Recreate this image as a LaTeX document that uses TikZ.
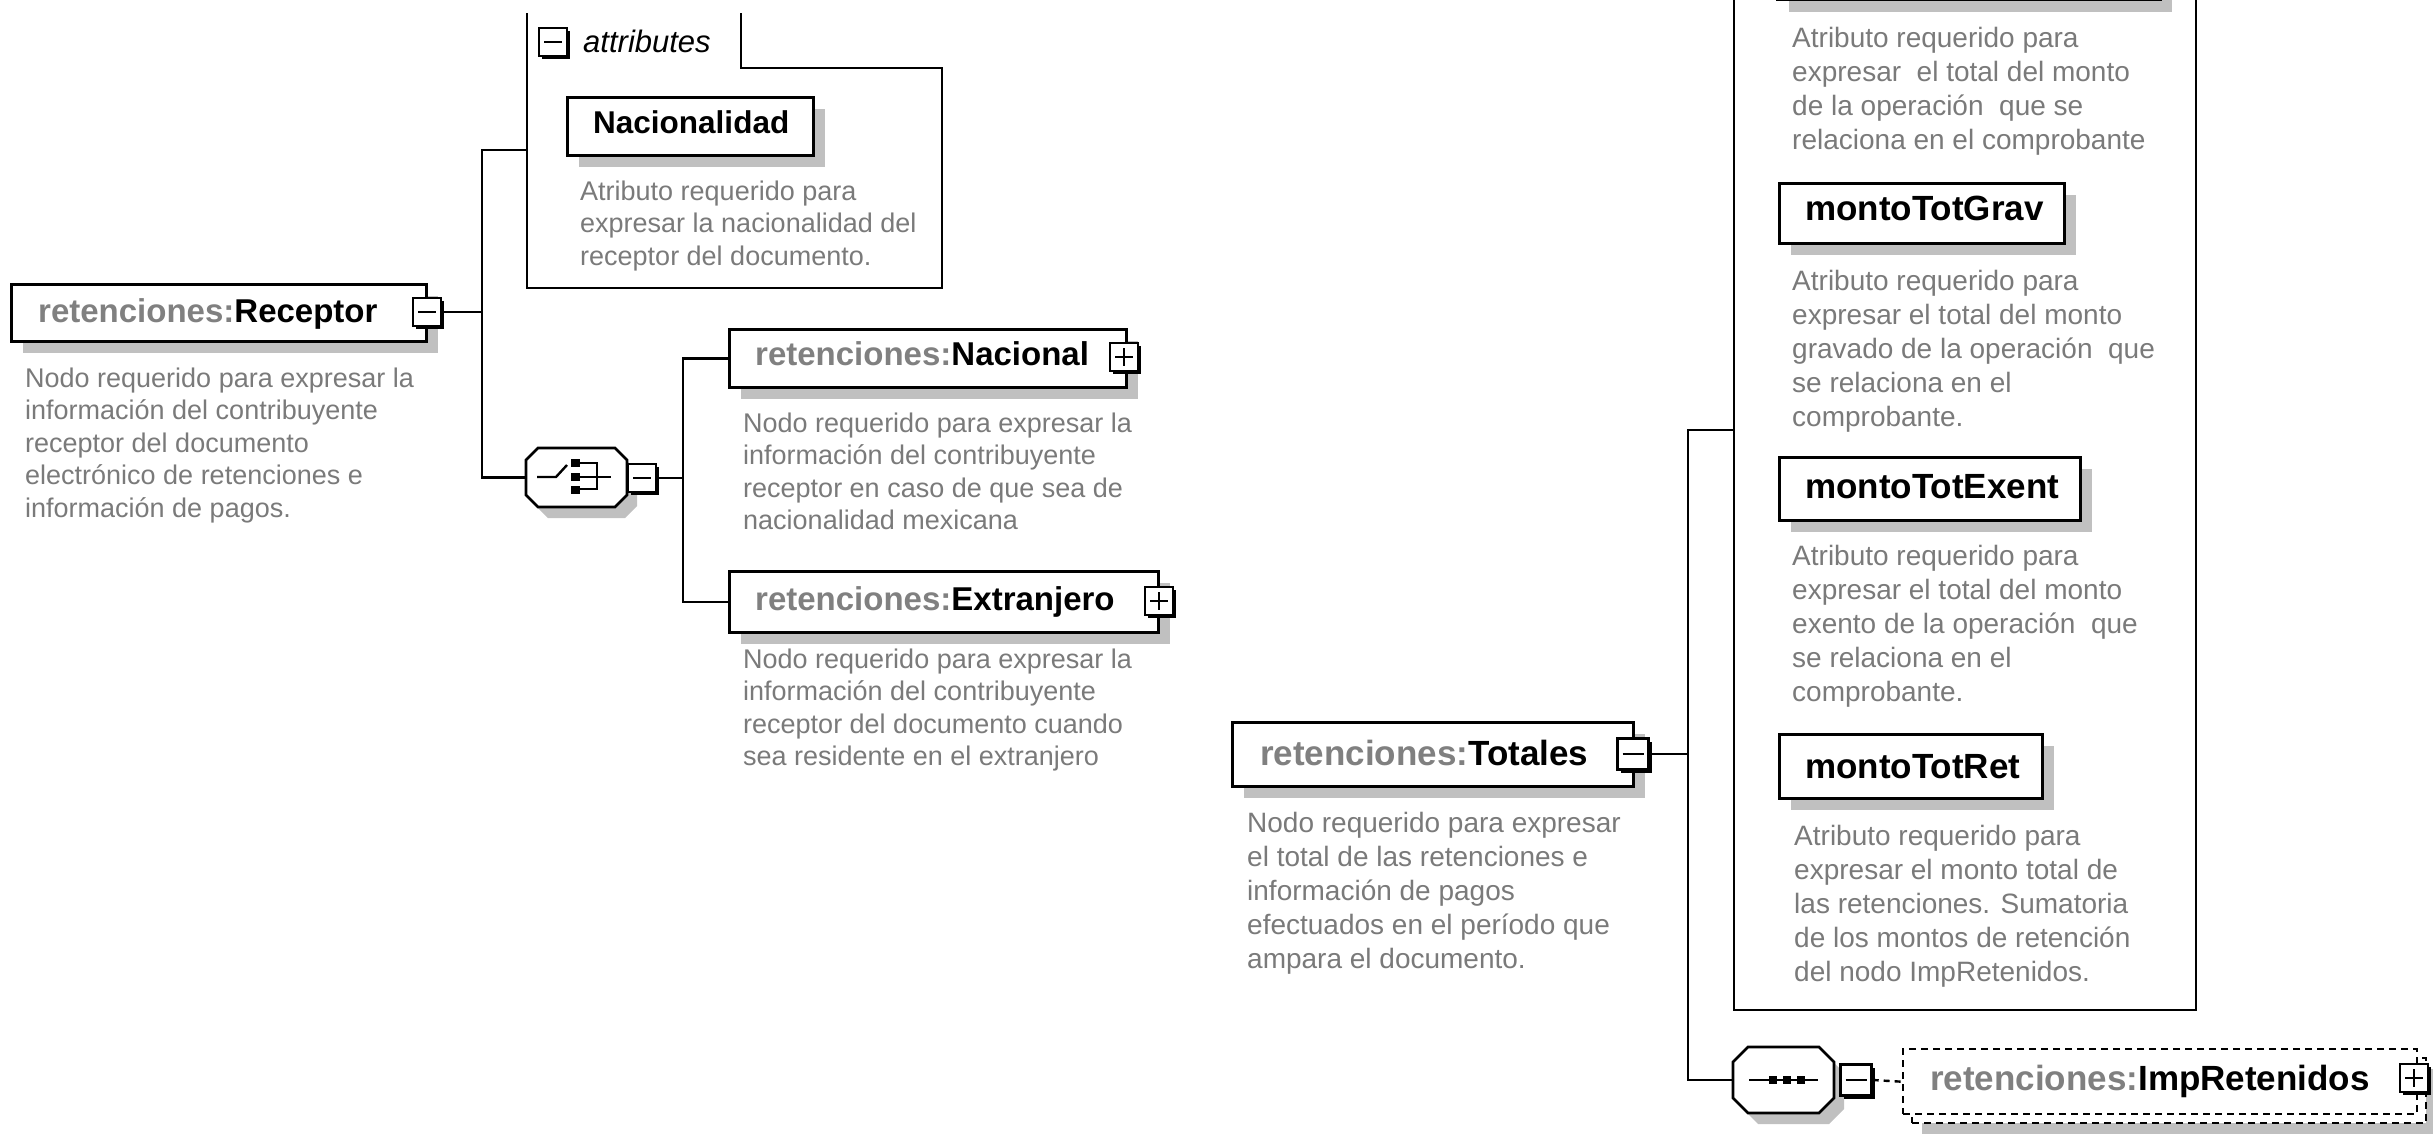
\documentclass[tikz,border=0pt]{standalone}
\usepackage{fontspec}
\setmainfont{Liberation Sans}
\usetikzlibrary{shadows}
\definecolor{pregray}{RGB}{128,128,128}
\definecolor{descgray}{RGB}{122,122,122}
\definecolor{shadowgray}{RGB}{192,192,192}
\newcommand\pre[1]{\textcolor{pregray}{#1}}
\newcommand\octpath[5]{(#1+#5,#2) -- (#3-#5,#2) -- (#3,#2+#5) -- (#3,#4-#5) -- (#3-#5,#4) -- (#1+#5,#4) -- (#1,#4-#5) -- (#1,#2+#5) -- cycle}
\tikzset{
 ln/.style={line width=2.6pt},
 elem/.style={draw, line width=2.8pt, fill=white, anchor=north west, inner sep=0pt,
   general shadow={fill=shadowgray, shadow xshift=12pt, shadow yshift=-12pt}},
 impbox/.style={draw, line width=2.4pt, dash pattern=on 7pt off 5pt, fill=white, anchor=north west, inner sep=0pt},
 lblL/.style={anchor=base west, inner sep=0pt, font=\fontsize{33}{40}\selectfont\bfseries},
 lblR/.style={anchor=base west, inner sep=0pt, font=\fontsize{35}{42}\selectfont\bfseries},
 descL/.style={anchor=north west, inner sep=0pt, align=left, text=descgray, font=\fontsize{27}{32.5}\selectfont},
 descR/.style={anchor=north west, inner sep=0pt, align=left, text=descgray, font=\fontsize{28}{34}\selectfont},
 btn/.style={draw, line width=2.4pt, fill=white, minimum size=28pt, inner sep=0pt,
   general shadow={fill=black, shadow xshift=3pt, shadow yshift=-3pt}},
 minusbtn/.style={btn, path picture={\draw[line width=2.2pt] ([xshift=5pt]path picture bounding box.west) -- ([xshift=-5pt]path picture bounding box.east);}},
 plusbtn/.style={btn, path picture={\draw[line width=2.2pt] ([xshift=5pt]path picture bounding box.west) -- ([xshift=-5pt]path picture bounding box.east);
   \draw[line width=2.2pt] ([yshift=-5pt]path picture bounding box.north) -- ([yshift=5pt]path picture bounding box.south);}},
 anchorbox/.style={inner sep=0pt, outer sep=0pt},
}
\begin{document}
\begin{tikzpicture}[x=1pt,y=-1pt]
\useasboundingbox (0,0) rectangle (2433,1133);
\clip (0,0) rectangle (2433,1133);
\fill[white] (0,0) rectangle (2433,1133);

% ---------------- Receptor ----------------
\node[elem, minimum width=415pt, minimum height=57pt] (rec) at (10,283) {};
\node[lblL] (reclbl) at (38,322) {\pre{retenciones:}Receptor};
\node[minusbtn] (recbtn) at (427,312) {};
\node[descL] (recdesc) at (25,364.25) {\strut Nodo requerido para expresar la\\informaci\'on del contribuyente\\receptor del documento\\electr\'onico de retenciones e\\informaci\'on de pagos.};

% attributes container (left)
\draw[line width=2.8pt] (527,13) -- (527,288) -- (942,288) -- (942,68) -- (741,68) -- (741,13);
\node[minusbtn] (attrbtn) at (553,42) {};
\node[anchor=base west, inner sep=0pt, font=\fontsize{31}{38}\selectfont\itshape] (attrlbl) at (583,52) {attributes};
\node[elem, minimum width=246pt, minimum height=58pt] (nacattr) at (566,96) {};
\node[anchor=base west, inner sep=0pt, font=\fontsize{31.5}{38}\selectfont\bfseries] (nacattrlbl) at (593,133) {Nacionalidad};
\node[descL] (nacattrdesc) at (580,177.25) {\strut Atributo requerido para\\expresar la nacionalidad del\\receptor del documento.};

% choice compositor
\fill[shadowgray, shift={(10,11)}] \octpath{526}{448}{627}{507}{12};
\node[anchorbox, minimum width=101pt, minimum height=59pt] (choice) at (576.5,477.5) {};
\draw[ln, fill=white] \octpath{526}{448}{627}{507}{12};
\draw[line width=2.4pt] (537,477) -- (556,477) -- (567,465);
\fill (571,459) rectangle (580,467);
\fill (571,473) rectangle (580,481);
\fill (571,486) rectangle (580,494);
\draw[line width=2.4pt] (580,463) -- (597,463) -- (597,489) -- (580,489);
\draw[line width=2.4pt] (580,477) -- (611,477);
\node[minusbtn] (choicebtn) at (642,478) {};

% connectors Receptor
\coordinate (attrL) at (527,150);
\coordinate (rbus) at (482,312);
\draw[ln] (recbtn.east) -- (rbus);
\draw[ln] (attrL) -| (rbus) |- (choice.west);

% Nacional
\node[elem, minimum width=397pt, minimum height=58pt] (nac) at (728,328) {};
\node[lblL] (naclbl) at (755,365) {\pre{retenciones:}Nacional};
\node[plusbtn] (nacbtn) at (1124,357) {};
\node[descL] (nacdesc) at (743,409.25) {\strut Nodo requerido para expresar la\\informaci\'on del contribuyente\\receptor en caso de que sea de\\nacionalidad mexicana};

% Extranjero
\node[elem, minimum width=429pt, minimum height=61pt] (ext) at (728,570) {};
\node[lblL] (extlbl) at (755,610) {\pre{retenciones:}Extranjero};
\node[plusbtn] (extbtn) at (1159,601) {};
\node[descL] (extdesc) at (743,645.25) {\strut Nodo requerido para expresar la\\informaci\'on del contribuyente\\receptor del documento cuando\\sea residente en el extranjero};

\coordinate (cbus) at (683,478);
\draw[ln] (choicebtn.east) -- (cbus);
\draw[ln] (nac.west) -| (cbus) |- (ext.west);

% ---------------- Totales ----------------
\node[elem, minimum width=401pt, minimum height=64pt] (tot) at (1231,721) {};
\node[lblR] (totlbl) at (1260,765) {\pre{retenciones:}Totales};
\node[minusbtn, minimum size=31pt] (totbtn) at (1633,754) {};
\node[descR] (totdesc) at (1247,808.2) {\strut Nodo requerido para expresar\\el total de las retenciones e\\informaci\'on de pagos\\efectuados en el per\'iodo que\\ampara el documento.};

% attributes container (right)
\draw[line width=2.8pt] (1734,-10) -- (1734,1010) -- (2196,1010) -- (2196,-10);
\node[elem, minimum width=383pt, minimum height=80pt, anchor=south west] (topattr) at (1776,1) {};
\node[descR] (topdesc) at (1792,23.2) {\strut Atributo requerido para\\expresar\ \ el total del monto\\de la operaci\'on\ \ que se\\relaciona en el comprobante};

\node[elem, minimum width=285pt, minimum height=60pt] (grav) at (1778,182) {};
\node[lblR] (gravlbl) at (1805,220) {montoTotGrav};
\node[descR] (gravdesc) at (1792,266.2) {\strut Atributo requerido para\\expresar el total del monto\\gravado de la operaci\'on\ \ que\\se relaciona en el\\comprobante.};

\node[elem, minimum width=301pt, minimum height=63pt] (exent) at (1778,456) {};
\node[lblR] (exentlbl) at (1805,498) {montoTotExent};
\node[descR] (exentdesc) at (1792,541.2) {\strut Atributo requerido para\\expresar el total del monto\\exento de la operaci\'on\ \ que\\se relaciona en el\\comprobante.};

\node[elem, minimum width=263pt, minimum height=64pt] (ret) at (1778,733) {};
\node[lblR] (retlbl) at (1805,778) {montoTotRet};
\node[descR] (retdesc) at (1794,821.2) {\strut Atributo requerido para\\expresar el monto total de\\las retenciones. Sumatoria\\de los montos de retenci\'on\\del nodo ImpRetenidos.};

% sequence compositor
\fill[shadowgray, shift={(10,11)}] \octpath{1733}{1047}{1834}{1113}{15};
\node[anchorbox, minimum width=101pt, minimum height=66pt] (seq) at (1783.5,1080) {};
\draw[ln, fill=white] \octpath{1733}{1047}{1834}{1113}{15};
\draw[line width=2.4pt] (1749,1080) -- (1818,1080);
\fill (1769,1076) rectangle (1777,1084);
\fill (1783,1076) rectangle (1791,1084);
\fill (1797,1076) rectangle (1805,1084);
\node[minusbtn, minimum size=31pt] (seqbtn) at (1856,1080) {};

% ImpRetenidos
\fill[shadowgray] (1922,1069) rectangle (2437,1140);
\node[impbox, minimum width=514pt, minimum height=65pt] (impback) at (1911,1057) {};
\node[impbox, minimum width=514pt, minimum height=65pt] (imp) at (1902,1048) {};
\node[lblR] (implbl) at (1930,1090) {\pre{retenciones:}ImpRetenidos};
\node[plusbtn] (impbtn) at (2414,1078) {};

% connectors Totales
\coordinate (tbus) at (1688,754);
\coordinate (attrR) at (1734,430);
\draw[ln] (totbtn.east) -- (tbus);
\draw[ln] (attrR) -| (tbus) |- (seq.west);
\draw[line width=2.4pt, dash pattern=on 6pt off 5pt] (seqbtn.east) -- (imp.west);
\end{tikzpicture}
\end{document}
